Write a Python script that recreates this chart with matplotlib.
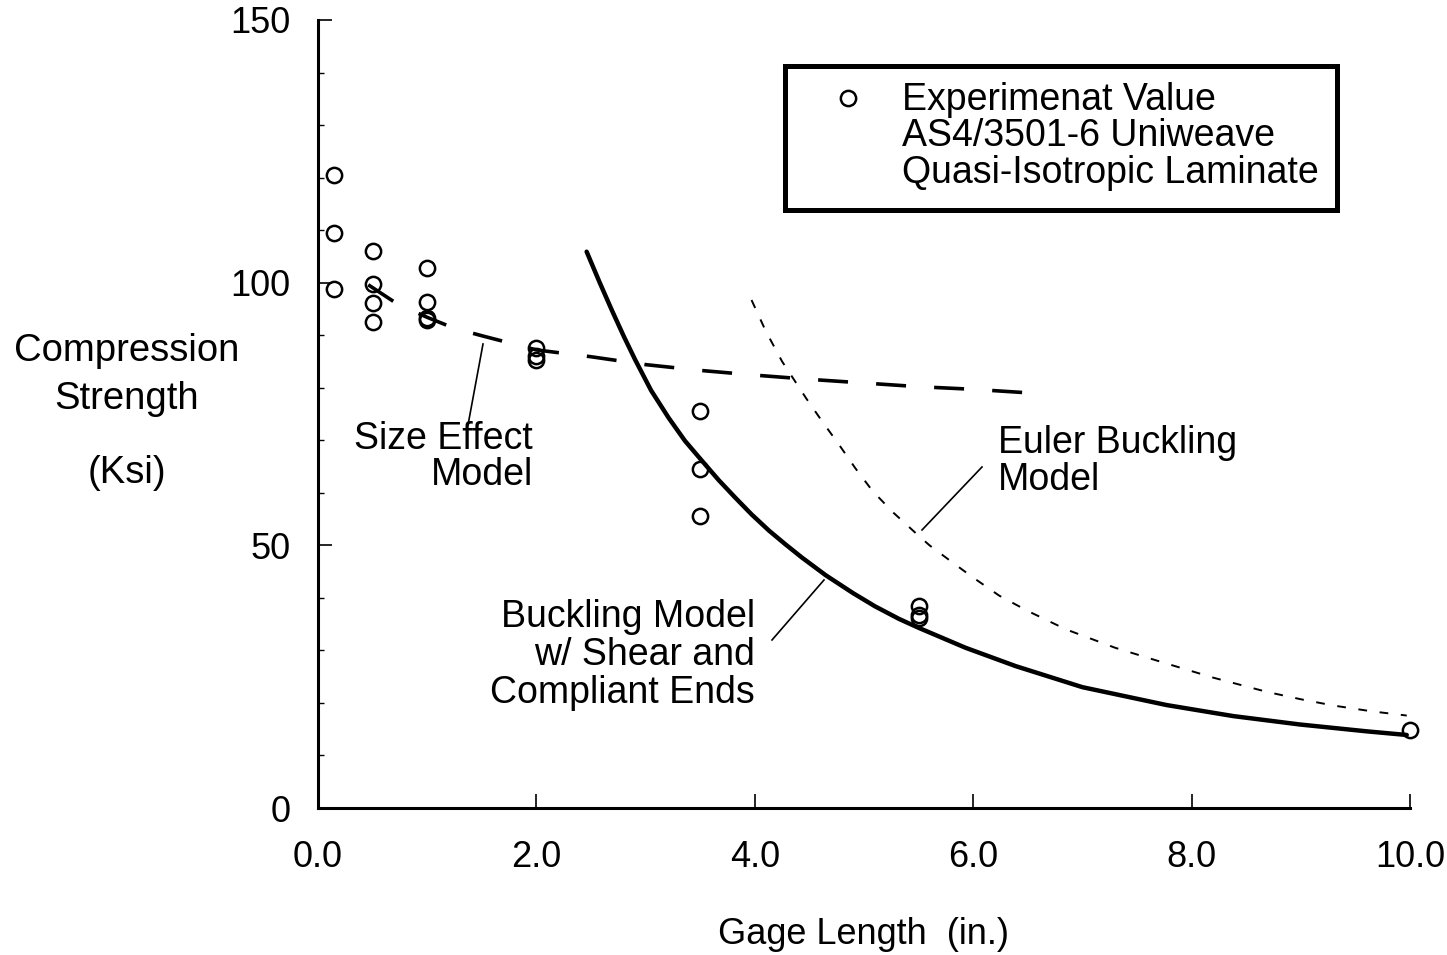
import matplotlib
matplotlib.use("Agg")
import matplotlib.pyplot as plt
from matplotlib.patches import Rectangle
from matplotlib.ticker import MultipleLocator

plt.rcParams['font.family'] = ['Liberation Sans', 'DejaVu Sans']

# Experimental data (gage length in., strength ksi)
exp_x = [0.15, 0.15, 0.15,
         0.5, 0.5, 0.5, 0.5,
         1.0, 1.0, 1.0, 1.0,
         2.0, 2.0, 2.0,
         3.5, 3.5, 3.5,
         5.5, 5.5, 5.5,
         10.0]
exp_y = [120.5, 109.5, 98.8,
         106.0, 99.7, 96.1, 92.6,
         102.8, 96.4, 93.2, 92.9,
         87.5, 86.0, 85.3,
         75.5, 64.6, 55.6,
         38.5, 36.8, 36.2,
         14.8]

# Size effect model
size_x = [0.46, 0.73, 1.0, 1.25, 1.5, 2.0, 2.5, 3.0, 3.5, 4.0, 4.5, 5.0, 5.5, 6.0, 6.45]
size_y = [99.6, 95.9, 93.4, 91.3, 89.9, 87.2, 85.9, 84.4, 83.3, 82.4, 81.6, 80.9, 80.2, 79.7, 79.1]

# Buckling model w/ shear and compliant ends
buck_x = [2.46, 2.58, 2.69, 2.80, 2.905, 3.05, 3.21, 3.36, 3.52, 3.67, 3.82, 3.97, 4.13,
          4.28, 4.43, 4.65, 4.90, 5.10, 5.32, 5.50, 5.93, 6.39, 7.00, 7.77, 8.38, 8.99,
          9.60, 9.97]
buck_y = [105.9, 100.0, 94.8, 89.8, 85.3, 79.5, 74.3, 69.9, 66.0, 62.4, 59.1, 55.9, 52.8,
          50.2, 47.7, 44.3, 40.9, 38.4, 36.0, 34.3, 30.5, 27.0, 23.0, 19.6, 17.5, 15.9,
          14.6, 13.9]

# Euler buckling model
euler_x = [3.97, 4.10, 4.25, 4.47, 4.62, 4.77, 4.92, 5.08, 5.27, 5.47, 5.60, 5.80, 5.99,
           6.24, 6.50, 6.85, 7.30, 7.77, 8.20, 8.69, 9.00, 9.30, 9.65, 9.97]
euler_y = [96.7, 90.8, 85.0, 78.0, 73.5, 69.2, 64.7, 60.3, 56.2, 52.4, 50.0, 46.9, 44.0,
           40.4, 37.5, 34.0, 30.5, 27.5, 24.8, 22.1, 20.7, 19.5, 18.4, 17.6]

xticks = [0, 2, 4, 6, 8, 10]
xticklabels = ["0.0", "2.0", "4.0", "6.0", "8.0", "10.0"]
yticks = [0, 50, 100, 150]
yticklabels = ["0", "50", "100", "150"]

FS_TICK = 26
FS = 27

fig = plt.figure(figsize=(14.47, 9.55), dpi=100)
ax = fig.add_axes([318/1447, 1-808/955, (1410-318)/1447, (808-20)/955])

ax.plot(size_x, size_y, color='black', lw=2.6, dashes=(8.3, 7.8), solid_capstyle='butt')
ax.plot(buck_x, buck_y, color='black', lw=3.2, solid_capstyle='round',
        solid_joinstyle='round')
ax.plot(euler_x, euler_y, color='black', lw=1.4, dashes=(4.5, 6.5))
ax.plot(exp_x, exp_y, linestyle='none', marker='o', ms=11, mfc='none',
        mec='black', mew=1.8, clip_on=False)

ax.set_xlim(0, 10)
ax.set_ylim(0, 150)
ax.set_xticks(xticks)
ax.set_xticklabels(xticklabels)
ax.set_yticks(yticks)
ax.set_yticklabels(yticklabels)
ax.yaxis.set_minor_locator(MultipleLocator(10))
ax.tick_params(axis='both', which='major', direction='in', length=10, width=1.2,
               labelsize=FS_TICK)
ax.tick_params(axis='x', which='major', pad=23)
ax.tick_params(axis='y', which='major', pad=20)
ax.tick_params(axis='y', which='minor', direction='in', length=4, width=1.0)
for s in ['top', 'right']:
    ax.spines[s].set_visible(False)
for s in ['left', 'bottom']:
    ax.spines[s].set_linewidth(2.2)

ax.set_xlabel("Gage Length  (in.)", fontsize=FS_TICK, labelpad=30)

def fig_y(py):
    return 1 - py / 955

fig.text(127/1447, fig_y(361), "Compression", fontsize=27.5, ha='center', va='baseline')
fig.text(127/1447, fig_y(409), "Strength", fontsize=27.5, ha='center', va='baseline')
fig.text(127/1447, fig_y(483), "(Ksi)", fontsize=27.5, ha='center', va='baseline')

# Legend box
def px2d(px, py):
    return ((px - 318) / 109.2, (808 - py) / 5.253)

x0, y0 = px2d(785, 210)
x1, y1 = px2d(1337, 66)
ax.add_patch(Rectangle((x0, y0), x1 - x0, y1 - y0, fill=False, ec='black',
                       lw=3.6, clip_on=False))
mx, my = px2d(848, 98)
ax.plot([mx], [my], marker='o', ms=11, mfc='none', mec='black', mew=1.8,
        linestyle='none', clip_on=False)
for txt, py in [("Experimenat Value", 110), ("AS4/3501-6 Uniweave", 146),
                ("Quasi-Isotropic Laminate", 183)]:
    tx, ty = px2d(902, py)
    ax.text(tx, ty, txt, fontsize=FS, ha='left', va='baseline')

# Annotations
ax.plot(*zip(px2d(483, 344), px2d(468, 425)), color='black', lw=1.2)
for txt, py in [("Size Effect", 449), ("Model", 485)]:
    tx, ty = px2d(533, py)
    ax.text(tx, ty, txt, fontsize=FS, ha='right', va='baseline')

ax.plot(*zip(px2d(922, 530), px2d(982, 467)), color='black', lw=1.2)
for txt, py in [("Euler Buckling", 453), ("Model", 490)]:
    tx, ty = px2d(998, py)
    ax.text(tx, ty, txt, fontsize=FS, ha='left', va='baseline')

ax.plot(*zip(px2d(772, 640), px2d(824, 580)), color='black', lw=1.2)
for txt, py in [("Buckling Model", 627), ("w/ Shear and", 665), ("Compliant Ends", 703)]:
    tx, ty = px2d(755, py)
    ax.text(tx, ty, txt, fontsize=FS, ha='right', va='baseline')

fig.savefig("out.png", dpi=100)
